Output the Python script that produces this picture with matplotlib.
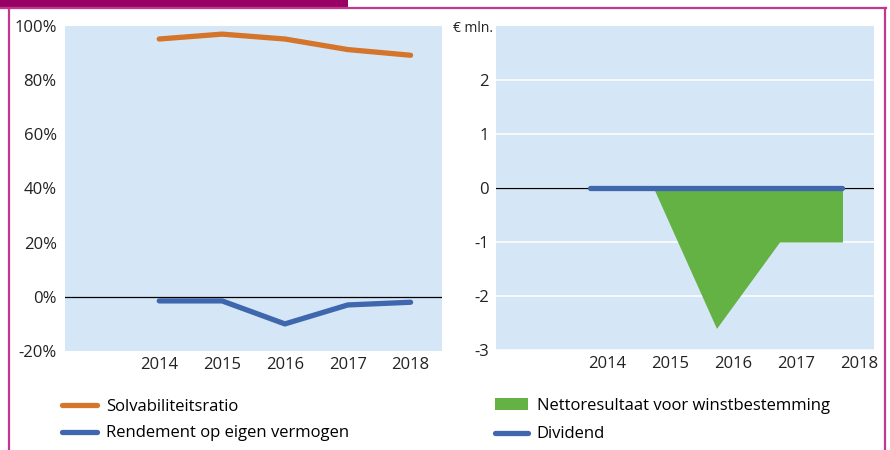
import matplotlib.pyplot as plt
from matplotlib.lines import Line2D
from matplotlib.patches import Patch, Rectangle

plt.rcParams['font.family'] = ['Open Sans', 'DejaVu Sans']

# categories: first slot is left empty in both panels
years = ['', '2014', '2015', '2016', '2017', '2018']
pos = [1, 2, 3, 4, 5]

solvabiliteit = [95.2, 97.0, 95.2, 91.3, 89.2]
rendement = [-1.5, -1.5, -10.0, -3.0, -2.0]

nettoresultaat = [0.0, 0.0, -2.6, -1.0, -1.0]
dividend = [0.0, 0.0, 0.0, 0.0, 0.0]

pct_ticks = [-20, 0, 20, 40, 60, 80, 100]
mln_ticks = [-3, -2, -1, 0, 1, 2]

c_orange = '#d5742b'
c_blue = '#3f67ae'
c_green = '#64b144'
c_bg = '#d5e6f7'
c_frame = '#c0398c'
c_head = '#990066'

W, H = 890, 450
fig = plt.figure(figsize=(W / 100, H / 100), dpi=100)

# frame and header strip
fig.patches.append(Rectangle((0, 1 - 7 / H), 348 / W, 7 / H, transform=fig.transFigure,
                             facecolor=c_head, edgecolor='none', zorder=0))
fig.lines.append(Line2D([0, 886 / W], [1 - 8 / H, 1 - 8 / H], transform=fig.transFigure,
                        color=c_frame, lw=1.6))
fig.lines.append(Line2D([8.5 / W, 8.5 / W], [0, 1 - 8 / H], transform=fig.transFigure,
                        color=c_frame, lw=1.6))
fig.lines.append(Line2D([884.5 / W, 884.5 / W], [0, 1 - 8 / H], transform=fig.transFigure,
                        color=c_frame, lw=1.6))

# ---- left panel ----
ax1 = fig.add_axes([65 / W, (H - 351) / H, 377 / W, 325 / H])
ax1.set_facecolor(c_bg)
ax1.axhline(0, color='black', lw=0.9, zorder=2)
ax1.plot(pos, solvabiliteit, color=c_orange, lw=3.8, solid_capstyle='round', zorder=3)
ax1.plot(pos, rendement, color=c_blue, lw=3.8, solid_capstyle='round', zorder=3)
ax1.set_xlim(-0.5, 5.5)
ax1.set_ylim(-20, 100)
ax1.set_yticks(pct_ticks)
ax1.set_yticklabels([f'{t}%' for t in pct_ticks])
ax1.set_xticks(range(len(years)))
ax1.set_xticklabels(years)
ax1.tick_params(length=0, labelsize=12, colors='#222222')
ax1.tick_params(axis='y', pad=6)
ax1.tick_params(axis='x', pad=4)
for s in ax1.spines.values():
    s.set_visible(False)

leg1 = ax1.legend(
    [Line2D([], [], color=c_orange, lw=3.8, solid_capstyle='round'),
     Line2D([], [], color=c_blue, lw=3.8, solid_capstyle='round')],
    ['Solvabiliteitsratio', 'Rendement op eigen vermogen'],
    loc='upper left', bbox_to_anchor=(62 / W, 1 - 399 / H), bbox_transform=fig.transFigure,
    frameon=False, fontsize=12, handlelength=2.1, handletextpad=0.55,
    labelspacing=0.62, borderpad=0, borderaxespad=0)

# ---- right panel ----
ax2 = fig.add_axes([496 / W, (H - 350) / H, 378 / W, 324 / H])
ax2.set_facecolor(c_bg)
for t in mln_ticks:
    ax2.axhline(t, color='white', lw=1.1, zorder=1)
ax2.fill_between(pos, 0, nettoresultaat, color=c_green, lw=0, zorder=2)
ax2.axhline(0, color='black', lw=0.9, zorder=3)
ax2.plot(pos, dividend, color=c_blue, lw=3.8, solid_capstyle='round', zorder=4)
ax2.set_xlim(-0.5, 5.5)
ax2.set_ylim(-3, 3)
ax2.set_yticks(mln_ticks)
ax2.set_yticklabels([str(t) for t in mln_ticks])
# year labels sit a little right of the category centres
ax2.set_xticks([i + 0.27 for i in range(1, len(years))])
ax2.set_xticklabels(years[1:])
ax2.tick_params(length=0, labelsize=12, colors='#222222')
ax2.tick_params(axis='y', pad=5)
ax2.tick_params(axis='x', pad=4)
for s in ax2.spines.values():
    s.set_visible(False)
fig.text(453 / W, 1 - 28 / H, '€ mln.', ha='left', va='center', fontsize=10, color='#222222')

leg2 = ax2.legend(
    [Patch(facecolor=c_green, edgecolor='none'),
     Line2D([], [], color=c_blue, lw=3.8, solid_capstyle='round')],
    ['Nettoresultaat voor winstbestemming', 'Dividend'],
    loc='upper left', bbox_to_anchor=(495 / W, 1 - 398 / H), bbox_transform=fig.transFigure,
    frameon=False, fontsize=12, handlelength=2.0, handletextpad=0.5,
    labelspacing=0.75, borderpad=0, borderaxespad=0)

fig.savefig('out.png', dpi=100)
